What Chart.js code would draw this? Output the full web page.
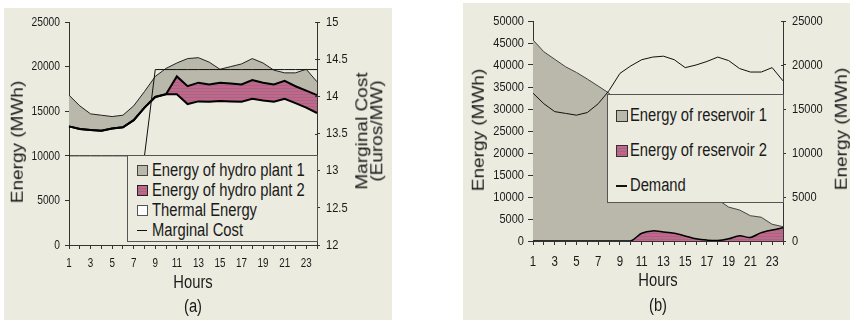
<!DOCTYPE html>
<html>
<head>
<meta charset="utf-8">
<script src="https://cdn.jsdelivr.net/npm/chart.js@4/dist/chart.umd.min.js"></script>
<style>
  html, body { margin:0; padding:0; background:#fff; width:850px; height:320px; overflow:hidden; }
  .panel { position:absolute; background:#EBEBDF; }
  .panel canvas { position:absolute; left:0; top:0; }
  .t { position:absolute; color:#1a1a1a; white-space:nowrap; line-height:1; font-family:'Liberation Sans',Arial,sans-serif; }
  .h { font-size:18px; transform:translate(-50%,-50%) scaleX(0.82); }
  .v { font-size:19px; transform:translate(-50%,-50%) scaleX(0.88) rotate(-90deg); text-align:center; }
  .legend { position:absolute; border:1px solid #555; background:#EBEBDF; box-sizing:border-box;
            font-family:'Liberation Sans',Arial,sans-serif; color:#1a1a1a; }
  .legend .row { position:relative; white-space:nowrap; }
  .legend .sym { position:absolute; box-sizing:border-box; }
  .legend .txt { position:absolute; top:0; transform:scaleX(0.82); transform-origin:0 50%; }
</style>
</head>
<body>
<div class="panel" id="pa" style="left:4px;top:8px;width:388px;height:312px;">
  <canvas id="ca" width="388" height="312"></canvas>
  <div class="t v" style="left:13px;top:134px;">Energy (MWh)</div>
  <div class="t v" style="left:365px;top:123px;line-height:17px;">Marginal Cost<br>(Euros/MW)</div>
  <div class="t h" style="left:189px;top:274px;">Hours</div>
  <div class="t h" style="left:189px;top:298px;">(a)</div>
  <div class="legend" id="la" style="left:123px;top:147px;width:191px;height:87px;font-size:18px;"></div>
</div>
<div class="panel" id="pb" style="left:463px;top:3px;width:387px;height:317px;">
  <canvas id="cb" width="387" height="317"></canvas>
  <div class="t v" style="left:15px;top:127px;">Energy (MWh)</div>
  <div class="t v" style="left:378px;top:126px;">Energy (MWh)</div>
  <div class="t h" style="left:195px;top:277px;">Hours</div>
  <div class="t h" style="left:195px;top:302px;">(b)</div>
  <div class="legend" id="lb" style="left:144px;top:91px;width:177px;height:109px;font-size:18px;"></div>
</div>
<script>
// ---------- data ----------
const hours = ['1','2','3','4','5','6','7','8','9','10','11','12','13','14','15','16','17','18','19','20','21','22','23','24'];

// chart (a) – stacked energies (MWh)
const thermalEnergy = [13300,13000,12900,12800,13050,13200,14000,15400,16600,16900,16900,15800,16100,16050,16150,16100,16050,16400,16200,16050,16400,15900,15400,14800];
const hydroPlant2   = [0,0,0,0,0,0,0,0,0,0,2000,2000,2100,1950,2050,2000,1950,2100,2000,1950,2000,1900,1900,2000];
const hydroPlant1   = [3500,2600,1800,1750,1350,1350,1600,1800,2300,2900,1500,3100,2800,2500,1500,1900,2300,2400,2200,1600,900,1500,2400,1500];
// marginal cost (Euros/MW)
const marginalCost  = [13.2,13.2,13.2,13.2,13.2,13.2,13.2,13.2,14.36,14.36,14.36,14.36,14.36,14.36,14.36,14.36,14.36,14.36,14.36,14.36,14.36,14.36,14.36,14.36];

// chart (b) – reservoir energies (MWh) and demand (MWh)
const reservoir1 = [45700,43000,41300,39600,38300,36800,35200,33600,30400,27600,25800,22900,20200,17700,15600,13700,11600,9400,7700,7050,5750,5400,3800,3250];
const reservoir2 = [0,0,0,0,0,0,0,0,0,0,1750,2300,2050,1750,1150,500,200,100,500,1200,800,1900,2500,3000];
const demand     = [16800,15600,14700,14500,14300,14600,15600,17100,19050,19900,20600,20900,21000,20600,19700,20000,20400,20900,20500,19600,19200,19200,19700,18200];

// tick labels
const leftTicksA  = [0,5000,10000,15000,20000,25000];
const rightTicksA = [12,12.5,13,13.5,14,14.5,15];
const leftTicksB  = [0,5000,10000,15000,20000,25000,30000,35000,40000,45000,50000];
const rightTicksB = [0,5000,10000,15000,20000,25000];

const legendA = ['Energy of hydro plant 1','Energy of hydro plant 2','Thermal Energy','Marginal Cost'];
const legendB = ['Energy of reservoir 1','Energy of reservoir 2','Demand'];

// ---------- styles ----------
const GRAY = '#B9B8AA', AXIS = '#333333';
function stripePattern() {
  const c = document.createElement('canvas'); c.width = 4; c.height = 3;
  const x = c.getContext('2d');
  x.fillStyle = '#C5648D'; x.fillRect(0,0,4,2);
  x.fillStyle = '#9C6B7E'; x.fillRect(0,2,4,1);
  return x.createPattern(c, 'repeat');
}
const PINK = stripePattern();
const FONT = "'Liberation Sans',Arial,sans-serif";

function axisCommon(tl, extra) {
  return Object.assign({
    border: { display:true, color:AXIS, width:1 },
    grid: { display:true, drawOnChartArea:false, color:AXIS, tickLength:tl, tickWidth:1 },
  }, extra);
}
function fixedTicks(vals) {
  return function(scale) { scale.ticks = vals.map(v => ({ value: v })); };
}

// draws tick labels horizontally condensed, positioned by the chart's own scales
function condensedTicks(cfg) {
  return {
    id: 'condensedTicks',
    afterDraw(chart) {
      const ctx = chart.ctx;
      ctx.save();
      ctx.fillStyle = '#1a1a1a';
      Object.keys(cfg).forEach(id => {
        const s = chart.scales[id], c = cfg[id];
        ctx.font = c.size + 'px ' + FONT;
        s.ticks.forEach((t, i) => {
          if (c.cross) {
            const py = s.getPixelForValue(t.value);
            ctx.strokeStyle = AXIS; ctx.lineWidth = 1;
            ctx.beginPath(); ctx.moveTo(s.left - c.cross, Math.round(py) + 0.5); ctx.lineTo(s.left + 1, Math.round(py) + 0.5); ctx.stroke();
          }
          const lab = t.label;
          if (lab === '' || lab == null) return;
          ctx.save();
          if (id === 'x') {
            ctx.textAlign = 'center'; ctx.textBaseline = 'middle';
            ctx.translate(s.getPixelForTick(i), s.top + c.gap);
          } else if (s.position === 'left') {
            ctx.textAlign = 'right'; ctx.textBaseline = 'middle';
            ctx.translate(s.right - c.gap, s.getPixelForValue(t.value));
          } else {
            ctx.textAlign = 'left'; ctx.textBaseline = 'middle';
            ctx.translate(s.left + c.gap, s.getPixelForValue(t.value));
          }
          ctx.scale(c.sx, 1);
          ctx.fillText(lab, 0, 0);
          ctx.restore();
        });
      });
      ctx.restore();
    }
  };
}

// ---------- chart (a) ----------
new Chart(document.getElementById('ca'), {
  type: 'line',
  data: {
    labels: hours,
    datasets: [
      { label: legendA[3], data: marginalCost, yAxisID:'y1', borderColor:'#111', borderWidth:1, fill:false, pointRadius:0, tension:0 },
      { label: legendA[2], data: thermalEnergy, yAxisID:'y', stack:'e', borderColor:'#000', borderWidth:2, fill:false, pointRadius:0, tension:0 },
      { label: legendA[1], data: hydroPlant2, yAxisID:'y', stack:'e', borderColor:'#000', borderWidth:2, backgroundColor:PINK, fill:'-1', pointRadius:0, tension:0 },
      { label: legendA[0], data: hydroPlant1, yAxisID:'y', stack:'e', borderColor:'#222', borderWidth:1, backgroundColor:GRAY, fill:'-1', pointRadius:0, tension:0 }
    ]
  },
  options: {
    responsive:false, animation:false, devicePixelRatio:1,
    layout: { padding: { top:14, left:0, right:0, bottom:0 } },
    plugins: { legend:{display:false}, tooltip:{enabled:false} },
    scales: {
      x: axisCommon(4, {
        offset:false,
        ticks:{ display:false, autoSkip:false, maxRotation:0, callback:(v,i)=> (i%2===0 ? hours[i] : '') },
        afterFit:(s)=>{ s.height = 75; }
      }),
      y: axisCommon(4, {
        position:'left', stacked:true, min:0, max:25000,
        ticks:{ display:false, callback:(v)=>String(v) },
        afterBuildTicks: fixedTicks(leftTicksA),
        afterFit:(s)=>{ s.width = 65; }
      }),
      y1: axisCommon(3, {
        position:'right', stacked:false, min:12, max:15,
        ticks:{ display:false, callback:(v)=>String(v) },
        afterBuildTicks: fixedTicks(rightTicksA),
        afterFit:(s)=>{ s.width = 75; }
      })
    }
  },
  plugins: [condensedTicks({
    x:  { size:12, sx:0.82, gap:19 },
    y:  { size:13.5, sx:0.76, gap:9 },
    y1: { size:13.5, sx:0.82, gap:9, cross:2 }
  })]
});

// ---------- chart (b) ----------
new Chart(document.getElementById('cb'), {
  type: 'line',
  data: {
    labels: hours,
    datasets: [
      { label: legendB[2], data: demand, yAxisID:'y1', borderColor:'#111', borderWidth:1, fill:false, pointRadius:0, tension:0 },
      { label: legendB[1], data: reservoir2, yAxisID:'y', borderColor:'#000', borderWidth:1.5, backgroundColor:PINK, fill:'origin', pointRadius:0, tension:0.3 },
      { label: legendB[0], data: reservoir1, yAxisID:'y', borderColor:'#444', borderWidth:1, backgroundColor:GRAY, fill:'origin', pointRadius:0, tension:0 }
    ]
  },
  options: {
    responsive:false, animation:false, devicePixelRatio:1,
    layout: { padding: { top:18, left:0, right:0, bottom:0 } },
    plugins: { legend:{display:false}, tooltip:{enabled:false} },
    scales: {
      x: axisCommon(4, {
        offset:false,
        ticks:{ display:false, autoSkip:false, maxRotation:0, callback:(v,i)=> (i%2===0 ? hours[i] : '') },
        afterFit:(s)=>{ s.height = 79; }
      }),
      y: axisCommon(5, {
        position:'left', min:0, max:50000,
        ticks:{ display:false, callback:(v)=>String(v) },
        afterBuildTicks: fixedTicks(leftTicksB),
        afterFit:(s)=>{ s.width = 70; }
      }),
      y1: axisCommon(3, {
        position:'right', min:0, max:25000,
        ticks:{ display:false, callback:(v)=>String(v) },
        afterBuildTicks: fixedTicks(rightTicksB),
        afterFit:(s)=>{ s.width = 67; }
      })
    }
  },
  plugins: [condensedTicks({
    x:  { size:14, sx:0.82, gap:21 },
    y:  { size:13, sx:0.85, gap:9 },
    y1: { size:13, sx:0.85, gap:9, cross:2 }
  })]
});

// ---------- HTML legends ----------
function buildLegend(id, items, rowH, padTop, symX, symSize, textX) {
  const el = document.getElementById(id);
  el.style.paddingTop = padTop + 'px';
  items.forEach(it => {
    const r = document.createElement('div');
    r.className = 'row';
    r.style.height = rowH + 'px';
    r.style.lineHeight = rowH + 'px';
    const s = document.createElement('div');
    s.className = 'sym';
    if (it.kind === 'line') {
      s.style.left = symX + 'px'; s.style.top = (rowH/2 - 0.5) + 'px';
      s.style.width = (symSize-1) + 'px'; s.style.height = '1.5px'; s.style.background = '#111';
    } else {
      s.style.left = symX + 'px'; s.style.top = (rowH/2 - symSize/2) + 'px';
      s.style.width = symSize + 'px'; s.style.height = symSize + 'px';
      s.style.border = '1px solid ' + it.border; s.style.background = it.fill;
    }
    const t = document.createElement('span');
    t.className = 'txt';
    t.textContent = it.label;
    t.style.left = textX + 'px';
    r.appendChild(s); r.appendChild(t); el.appendChild(r);
  });
}
const pinkCss = 'repeating-linear-gradient(to bottom,#C5648D 0px,#C5648D 2px,#9C6B7E 2px,#9C6B7E 3px)';
buildLegend('la', [
  { label:legendA[0], fill:GRAY, border:'#444' },
  { label:legendA[1], fill:pinkCss, border:'#222' },
  { label:legendA[2], fill:'#ffffff', border:'#555' },
  { label:legendA[3], kind:'line' }
], 20, 4, 9, 11, 24);
buildLegend('lb', [
  { label:legendB[0], fill:GRAY, border:'#333' },
  { label:legendB[1], fill:pinkCss, border:'#333' },
  { label:legendB[2], kind:'line' }
], 35, 3, 8, 12, 22);
</script>
</body>
</html>
